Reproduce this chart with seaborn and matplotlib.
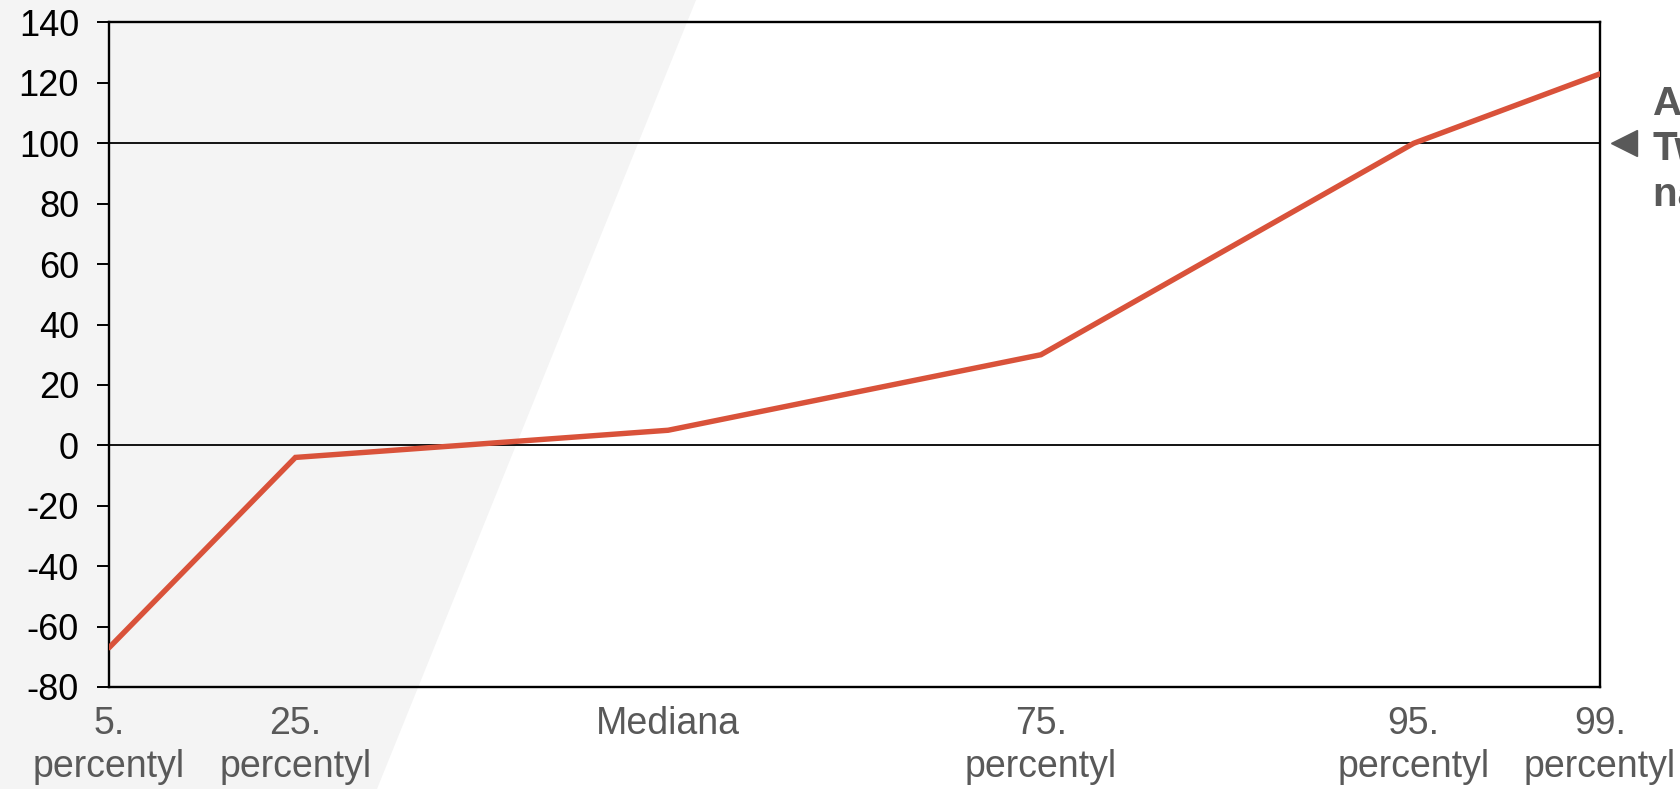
import matplotlib
matplotlib.use("Agg")
import matplotlib.pyplot as plt
import matplotlib.transforms as mtransforms
from matplotlib.patches import Polygon
import seaborn as sns
import pandas as pd

categories = ["5.\npercentyl", "25.\npercentyl", "Mediana", "75.\npercentyl", "95.\npercentyl", "99.\npercentyl"]
x_pos = [0, 1, 3, 5, 7, 8]
values = [-67, -4, 5, 30, 100, 123]
y_ticks = [-80, -60, -40, -20, 0, 20, 40, 60, 80, 100, 120, 140]
ref_lines = [0, 100]
annotation = "Aktualny\nTwój wynik\nna rynku"

sns.set_theme(style="white")
plt.rcParams['font.family'] = ['Liberation Sans', 'DejaVu Sans']

fig = plt.figure(figsize=(16.8, 7.89), dpi=100)
fig.patch.set_facecolor("white")
# decorative grey band behind the chart
band = Polygon([(0, 1), (0.4143, 1), (0.2244, 0), (0, 0)], closed=True,
               transform=fig.transFigure, facecolor="#f4f4f4", edgecolor="none", zorder=-10)
fig.patches.append(band)

ax = fig.add_axes([0.0649, 0.1293, 0.8875, 0.8422])
ax.set_zorder(1)
ax.patch.set_alpha(0)

df = pd.DataFrame({"x": x_pos, "y": values})
for v in ref_lines:
    ax.axhline(v, color="black", lw=1.3, zorder=1)
sns.lineplot(data=df, x="x", y="y", ax=ax, color="#d9523a", lw=3.9, zorder=3,
             solid_joinstyle="miter")

ax.set_xlim(0, 8)
ax.set_ylim(-80, 140)
ax.set_xticks(x_pos)
ax.set_xticklabels(categories, fontsize=27, color="#595959", linespacing=1.22)
ax.set_yticks(y_ticks)
ax.set_yticklabels([str(t) for t in y_ticks], fontsize=26, color="black")
ax.tick_params(axis="x", length=0, pad=14)
ax.tick_params(axis="y", length=8.6, width=1.4, color="black", pad=13, left=True)
ax.set_xlabel("")
ax.set_ylabel("")
for s in ax.spines.values():
    s.set_visible(True)
    s.set_color("black")
    s.set_linewidth(1.7)

trans = mtransforms.blended_transform_factory(ax.transAxes, ax.transData)
ax.plot([1.016], [100], marker="<", markersize=19, color="#595959",
        transform=trans, clip_on=False, linestyle="none")
ax.text(1.0356, 98, annotation, transform=trans, fontsize=29, fontweight="bold",
        color="#595959", va="center", ha="left", linespacing=1.25, clip_on=False)

fig.savefig("out.png", dpi=100)
